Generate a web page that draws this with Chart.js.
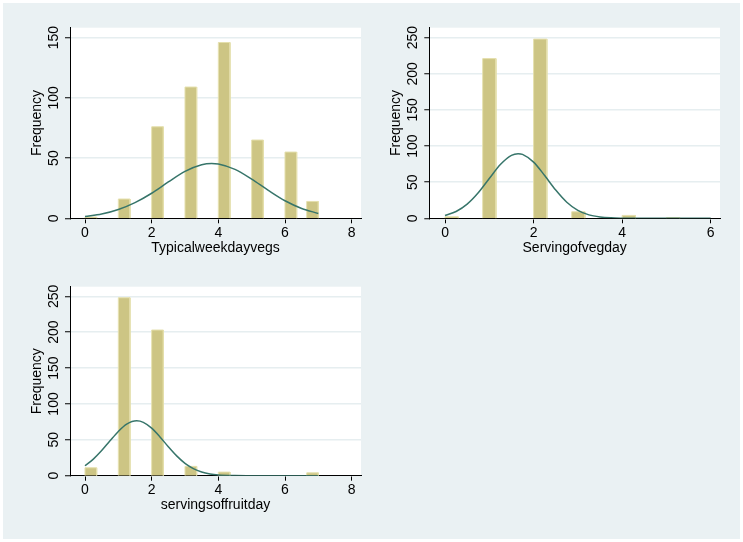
<!DOCTYPE html>
<html>
<head>
<meta charset="utf-8">
<script src="https://cdn.jsdelivr.net/npm/chart.js@4.4.1/dist/chart.umd.min.js"></script>
<style>
  html, body { margin: 0; padding: 0; background: #ffffff; }
  body { width: 743px; height: 542px; position: relative; overflow: hidden; }
  #bg { position: absolute; left: 3px; top: 3px; width: 737px; height: 536px; background: #eaf1f3; }
  canvas { position: absolute; }
</style>
</head>
<body>
<div id="bg"></div>
<canvas id="weekday" width="367" height="265" style="left:3px;top:3px"></canvas>
<canvas id="vegday" width="367" height="265" style="left:362px;top:3px"></canvas>
<canvas id="fruitday" width="367" height="265" style="left:3px;top:262px"></canvas>
<script>
// Typicalweekdayvegs
const weekdayBinStart = [0, 1, 2, 3, 4, 5, 6, 6.65];
const weekdayCount = [1, 16, 76, 109, 146, 65, 55, 14];
const weekdayBinWidth = 0.35;
const weekdayCurveX = [0, 0.5, 1, 1.5, 2, 2.5, 3, 3.5, 3.8, 4, 4.5, 5, 5.5, 6, 6.5, 7];
const weekdayCurveY = [1.5, 3.5, 7.3, 13, 20.8, 30.2, 39, 44.5, 45.5, 45.1, 40.6, 32.5, 23.2, 14.6, 8.2, 4];
const weekdayXTicks = [0, 2, 4, 6, 8];
const weekdayYTicks = [0, 50, 100, 150];

// Servingofvegday
const vegdayBinStart = [0, 0.85, 2, 2.86, 4, 5];
const vegdayCount = [2, 221, 248, 9, 4, 1];
const vegdayBinWidth = 0.3;
const vegdayCurveX = [0, 0.25, 0.5, 0.75, 1, 1.25, 1.5, 1.65, 1.75, 2, 2.25, 2.5, 2.75, 3, 3.25, 3.5, 3.75, 4, 4.5, 5, 5.5, 6];
const vegdayCurveY = [3.9, 9.4, 19.6, 35.3, 55.1, 74.5, 87.2, 89.5, 88.5, 77.8, 59.2, 39.1, 22.3, 11, 4.7, 1.8, 0.6, 0.2, 0, 0, 0, 0];
const vegdayXTicks = [0, 2, 4, 6];
const vegdayYTicks = [0, 50, 100, 150, 200, 250];

// servingsoffruitday
const fruitdayBinStart = [0, 1, 2, 3, 4, 6.65];
const fruitdayCount = [11, 248, 203, 13, 5, 4];
const fruitdayBinWidth = 0.35;
const fruitdayCurveX = [0, 0.25, 0.5, 0.75, 1, 1.25, 1.55, 1.75, 2, 2.25, 2.5, 2.75, 3, 3.25, 3.5, 3.75, 4, 4.5, 5, 6, 7];
const fruitdayCurveY = [13.9, 23.1, 35, 48.6, 61.7, 71.8, 76.5, 74.4, 66.3, 54.1, 40.3, 27.6, 17.2, 9.9, 5.2, 2.5, 1.1, 0.2, 0, 0, 0];
const fruitdayXTicks = [0, 2, 4, 6, 8];
const fruitdayYTicks = [0, 50, 100, 150, 200, 250];

const FONT = '"Liberation Sans", Arial, Helvetica, sans-serif';
Chart.defaults.font.family = FONT;
Chart.defaults.font.size = 14;
Chart.defaults.color = '#000000';

// white plot region behind the marks
const plotBackground = {
    id: 'plotBackground',
    beforeDraw(chart) {
        const { ctx, chartArea: a } = chart;
        ctx.save();
        ctx.fillStyle = '#ffffff';
        ctx.fillRect(a.left, a.top, a.right - a.left, a.bottom - a.top);
        ctx.restore();
    }
};

// y tick labels are vertical in the original
const verticalYLabels = {
    id: 'verticalYLabels',
    afterDraw(chart) {
        const scale = chart.scales.y;
        const ctx = chart.ctx;
        ctx.save();
        ctx.font = '14px ' + FONT;
        ctx.fillStyle = '#000000';
        ctx.textAlign = 'center';
        ctx.textBaseline = 'middle';
        scale.ticks.forEach(t => {
            const py = scale.getPixelForValue(t.value);
            ctx.save();
            ctx.translate(scale.right - 15.7, py);
            ctx.rotate(-Math.PI / 2);
            ctx.fillText(String(t.value), 0, 0);
            ctx.restore();
        });
        ctx.restore();
    }
};

function barOutline(starts, counts, width) {
    const pts = [];
    starts.forEach((s, i) => {
        pts.push({ x: s, y: 0 }, { x: s, y: counts[i] }, { x: s + width, y: counts[i] }, { x: s + width, y: 0 }, { x: s + width, y: null });
    });
    return pts;
}

function makeHistogram(id, d) {
    const curve = d.curveX.map((x, i) => ({ x: x, y: d.curveY[i] }));
    return new Chart(document.getElementById(id), {
        type: 'line',
        data: {
            datasets: [
                {
                    data: curve,
                    borderColor: '#37756a',
                    borderWidth: 1.5,
                    pointRadius: 0,
                    cubicInterpolationMode: 'monotone',
                    fill: false
                },
                {
                    data: barOutline(d.starts, d.counts, d.width),
                    borderColor: '#e4dfac',
                    backgroundColor: '#cdc584',
                    borderWidth: 1,
                    pointRadius: 0,
                    tension: 0,
                    spanGaps: false,
                    fill: 'origin'
                }
            ]
        },
        options: {
            responsive: false,
            animation: false,
            layout: { padding: d.padding },
            plugins: { legend: { display: false }, tooltip: { enabled: false } },
            scales: {
                x: {
                    type: 'linear',
                    min: d.xMin,
                    max: d.xMax,
                    afterBuildTicks: s => { s.ticks = d.xTicks.map(v => ({ value: v })); },
                    afterFit: s => { s.height = 40; },
                    grid: { display: true, drawOnChartArea: false, drawTicks: true, tickLength: 5, tickColor: '#000000', tickWidth: 1 },
                    border: { display: true, color: '#000000', width: 1 },
                    ticks: { padding: 1, maxRotation: 0, autoSkip: false, color: '#000000', font: { size: 14 } },
                    title: { display: true, text: d.xTitle, color: '#000000', font: { size: 14 }, padding: { top: 0, bottom: 2 } }
                },
                y: {
                    type: 'linear',
                    min: 0,
                    max: d.yMax,
                    afterBuildTicks: s => { s.ticks = d.yTicks.map(v => ({ value: v })); },
                    afterFit: s => { s.width = 67; },
                    grid: { color: '#e6eef0', lineWidth: 1.5, drawTicks: true, tickLength: 5, tickColor: '#000000', tickWidth: 1 },
                    border: { display: true, color: '#000000', width: 1 },
                    ticks: { display: false },
                    title: { display: true, text: 'Frequency', color: '#000000', font: { size: 14 }, padding: { top: 25.8, bottom: 0 } }
                }
            }
        },
        plugins: [plotBackground, verticalYLabels]
    });
}

makeHistogram('weekday', {
    starts: weekdayBinStart, counts: weekdayCount, width: weekdayBinWidth,
    curveX: weekdayCurveX, curveY: weekdayCurveY,
    xTicks: weekdayXTicks, yTicks: weekdayYTicks,
    xMin: -0.45, xMax: 8.28, yMax: 158.3,
    xTitle: 'Typicalweekdayvegs',
    padding: { left: 0, top: 24.7, right: 9, bottom: 9.7 }
});

makeHistogram('vegday', {
    starts: vegdayBinStart, counts: vegdayCount, width: vegdayBinWidth,
    curveX: vegdayCurveX, curveY: vegdayCurveY,
    xTicks: vegdayXTicks, yTicks: vegdayYTicks,
    xMin: -0.355, xMax: 6.21, yMax: 263.8,
    xTitle: 'Servingofvegday',
    padding: { left: 0.3, top: 24.7, right: 9, bottom: 9.7 }
});

makeHistogram('fruitday', {
    starts: fruitdayBinStart, counts: fruitdayCount, width: fruitdayBinWidth,
    curveX: fruitdayCurveX, curveY: fruitdayCurveY,
    xTicks: fruitdayXTicks, yTicks: fruitdayYTicks,
    xMin: -0.45, xMax: 8.28, yMax: 263.4,
    xTitle: 'servingsoffruitday',
    padding: { left: 0, top: 24.7, right: 9, bottom: 11.3 }
});
</script>
</body>
</html>
